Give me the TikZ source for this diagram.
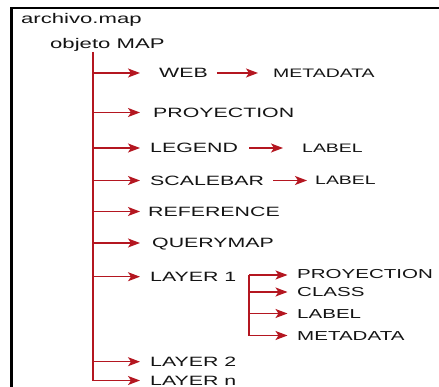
\documentclass[tikz,border=0pt]{standalone}
\usepackage{fontspec}
\setmainfont{Liberation Sans}[FakeStretch=1.58]
\usetikzlibrary{arrows.meta}
\definecolor{branch}{RGB}{180,22,32}
\definecolor{ink}{RGB}{20,20,20}
\tikzset{
  title/.style={inner sep=0pt, anchor=base west, text=ink, font=\fontsize{14}{16}\selectfont},
  item/.style={inner sep=0pt, anchor=west, text=ink, font=\fontsize{13.5}{16}\selectfont, text height=9.7pt, text depth=0pt},
  leaf/.style={item, font=\fontsize{12.3}{15}\selectfont, text height=8.8pt},
  subitem/.style={item, font=\fontsize{13}{15}\selectfont, text height=9.3pt},
  link/.style={draw=branch, line width=1.3pt, -{Stealth[length=12pt,width=9pt,inset=3pt]}},
}
\begin{document}
\begin{tikzpicture}[x=1pt,y=-1pt]
\useasboundingbox (0,0) rectangle (439,387);
% frame: top and left edges only
\draw[line width=2.5pt, black] (11.5,390) |- (442,8);

% file and object
\node[title] (file) at (21,24) {archivo.map};
\node[title] (obj) at (50,48.3) {objeto MAP};

% main branch
\coordinate (root) at (93,52);
\coordinate (tip) at (140,0);
\node[item] (web) at (159,73) {WEB};
\node[item] (proj) at (153,112.5) {PROYECTION};
\node[item] (legend) at (150,148) {LEGEND};
\node[item] (scale) at (150,180.5) {SCALEBAR};
\node[item] (ref) at (148,211.5) {REFERENCE};
\node[item] (query) at (152,243) {QUERYMAP};
\node[item] (l1) at (150,276.7) {LAYER 1};
\node[item] (l2) at (150,361.7) {LAYER 2};
\node[item] (ln) at (150,380.5) {LAYER n};

\draw[link] (root) |- (tip |- ln.west);
\foreach \n in {web,proj,legend,scale,ref,query,l1,l2}
  \draw[link] (root |- \n.west) -- (tip |- \n.west);

% second-level items
\node[leaf] (webmeta) at (273,73) {METADATA};
\node[leaf] (leglab) at (302,148) {LABEL};
\node[leaf] (scalab) at (315,180.5) {LABEL};
\draw[link] ([xshift=9pt]web.east) -- ([xshift=-15pt]webmeta.west);
\draw[link] ([xshift=11pt]legend.east) -- ([xshift=-19pt]leglab.west);
\draw[link] ([xshift=9pt]scale.east) -- ([xshift=-8pt]scalab.west);

% layer contents
\coordinate (fork) at (249,275);
\coordinate (tip2) at (287.5,0);
\node[subitem] (sproj) at (297,274) {PROYECTION};
\node[subitem] (sclass) at (297,292) {CLASS};
\node[subitem] (slabel) at (297,313.5) {LABEL};
\node[subitem] (smeta) at (297,335.5) {METADATA};
\draw[link] (fork) -- (tip2 |- fork);
\draw[link] (fork) |- (tip2 |- smeta.west);
\draw[link] (fork |- sclass.west) -- (tip2 |- sclass.west);
\draw[link] (fork |- slabel.west) -- (tip2 |- slabel.west);
\end{tikzpicture}
\end{document}
